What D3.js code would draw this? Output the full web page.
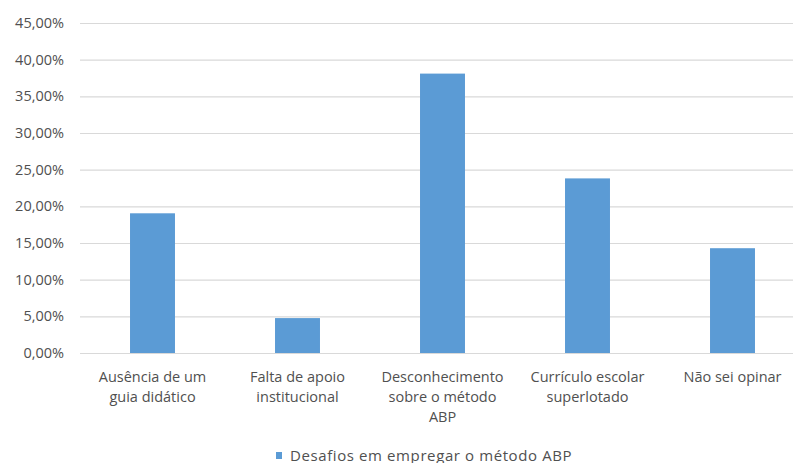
<!DOCTYPE html>
<html>
<head>
<meta charset="utf-8">
<script src="https://cdn.jsdelivr.net/npm/d3@7"></script>
<style>
  html, body { margin: 0; padding: 0; background: #fff; }
  svg { display: block; }
  text { font-family: "Open Sans", "Noto Sans", sans-serif; fill: #505050; }
</style>
</head>
<body>
<svg id="chart" width="793" height="463"></svg>
<script>
// Challenges in applying the ABP (problem-based learning) method
const categories = [
  ["Ausência de um", "guia didático"],
  ["Falta de apoio", "institucional"],
  ["Desconhecimento", "sobre o método", "ABP"],
  ["Currículo escolar", "superlotado"],
  ["Não sei opinar"]
];
const values = [19.05, 4.76, 38.10, 23.81, 14.29];
const yTicks = [0, 5, 10, 15, 20, 25, 30, 35, 40, 45];
const seriesName = "Desafios em empregar o método ABP";

const svg = d3.select("#chart");
const margin = { left: 80, right: -12, top: 23, bottom: 110 };
const width = 793 - margin.left - margin.right;
const height = 463 - margin.top - margin.bottom;

const g = svg.append("g").attr("transform", `translate(${margin.left},${margin.top})`);

const x = d3.scaleBand()
  .domain(d3.range(categories.length))
  .range([0, width])
  .paddingInner(0.69)
  .paddingOuter(0.345);

const y = d3.scaleLinear().domain([0, 45]).range([height, 0]);

const fmt = v => v.toFixed(2).replace(".", ",") + "%";

// horizontal gridlines + tick labels
const yAxis = d3.axisLeft(y)
  .tickValues(yTicks)
  .tickSize(-width)
  .tickPadding(16)
  .tickFormat(fmt);

const ya = g.append("g").call(yAxis);
ya.select(".domain").remove();
ya.selectAll(".tick line").attr("stroke", "#d9d9d9").attr("stroke-width", 1.2);
ya.selectAll(".tick text")
  .attr("font-size", 14.5)
  .attr("fill", "#505050")
  .style("font-family", '"Open Sans", sans-serif');

// bars
g.selectAll("rect.bar")
  .data(values)
  .join("rect")
  .attr("class", "bar")
  .attr("x", (d, i) => x(i))
  .attr("width", x.bandwidth())
  .attr("y", d => y(d))
  .attr("height", d => y(0) - y(d))
  .attr("fill", "#5b9bd5");

// category labels (multi-line)
const labels = g.selectAll("text.cat")
  .data(categories)
  .join("text")
  .attr("class", "cat")
  .attr("text-anchor", "middle")
  .attr("font-size", 14.5)
  .attr("transform", (d, i) => `translate(${x(i) + x.bandwidth() / 2},${height + 29})`);

labels.selectAll("tspan")
  .data(d => d)
  .join("tspan")
  .attr("x", 0)
  .attr("dy", (d, i) => i === 0 ? 0 : 20)
  .text(d => d);

// legend
const legend = svg.append("g").attr("transform", "translate(276,452)");
legend.append("rect").attr("width", 6).attr("height", 7).attr("fill", "#5b9bd5");
legend.append("text")
  .attr("x", 14)
  .attr("y", 9)
  .attr("font-size", 15)
  .attr("letter-spacing", 0.6)
  .text(seriesName);
</script>
</body>
</html>
